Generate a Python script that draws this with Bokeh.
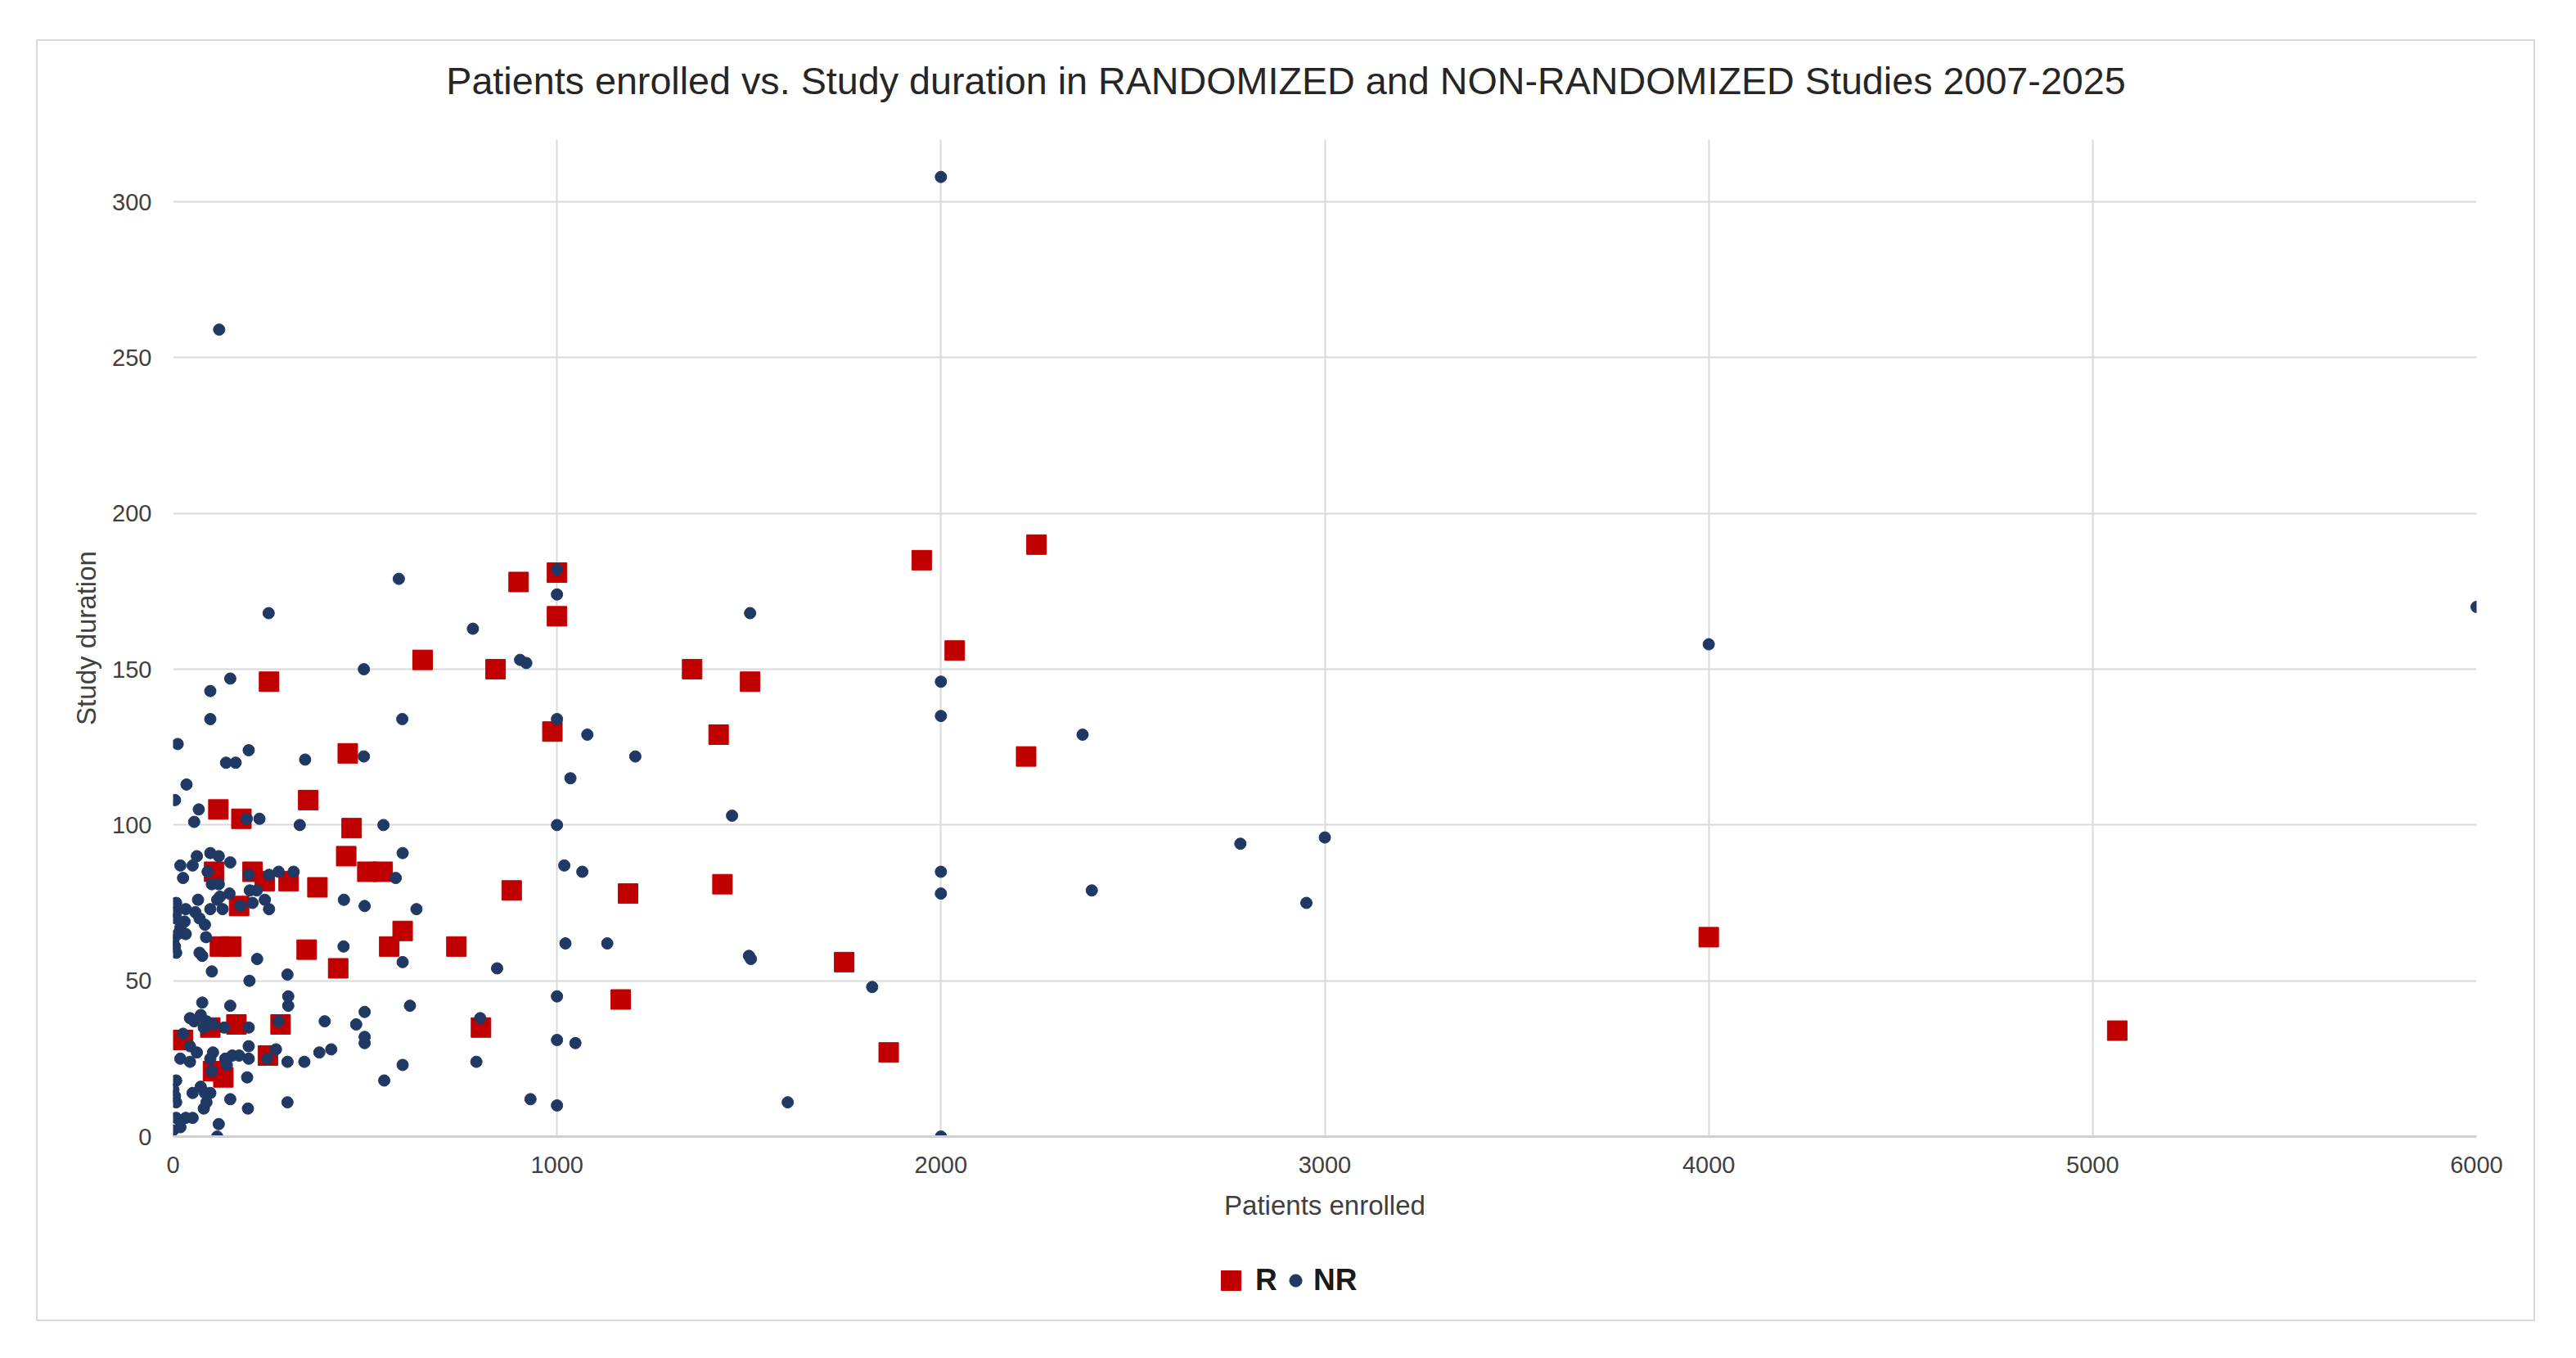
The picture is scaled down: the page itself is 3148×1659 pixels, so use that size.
from bokeh.plotting import figure
from bokeh.layouts import column
from bokeh.models import Legend, LegendItem, FixedTicker, Range1d, Label
from bokeh.embed import file_html
from bokeh.resources import INLINE

TITLE = "Patients enrolled vs. Study duration in RANDOMIZED and NON-RANDOMIZED Studies 2007-2025"
X_LABEL = "Patients enrolled"
Y_LABEL = "Study duration"
X_TICKS = [0, 1000, 2000, 3000, 4000, 5000, 6000]
Y_TICKS = [0, 50, 100, 150, 200, 250, 300]

# Randomized studies (R)
R_x = [250, 650, 840, 900, 1000, 1000, 988, 1352, 1421, 1503, 1950, 2249, 2036, 2222,
       455, 118, 178, 352, 465, 451, 506, 546, 107, 207, 239, 301, 376, 882, 1185, 1431,
       172, 122, 151, 348, 563, 598, 738, 430, 1748, 4000, 1166, 802, 26, 97, 165, 280,
       247, 104, 131, 1864, 5064]
R_y = [146, 153, 150, 178, 181, 167, 130, 150, 129, 146, 185, 190, 156, 122,
       123, 105, 102, 108, 99, 90, 85, 85, 85, 85, 82, 82, 80, 79, 78, 81,
       74, 61, 61, 60, 61, 66, 61, 54, 56, 64, 44, 35, 31, 35, 36, 36,
       26, 21, 19, 27, 34]

# Non-randomized studies (NR)
NR_x = [588, 249, 781, 497, 149, 97, 97, 597, 12, 197, 138, 163, 344, 497, 35, 5, 67, 55,
        192, 225, 330, 548,
        1000, 1000, 904, 920, 1000, 1079, 1204, 1035, 1456, 1000, 1019, 1066, 1022, 1131,
        844, 1000, 800, 1000, 1048, 931, 1000, 790,
        1503, 2000, 2000, 2369, 2000, 2000, 2393, 1500, 1505, 1821, 1601, 2000,
        2780, 3000, 2952, 4000, 6000, 2000, 120,
        598, 580, 445, 499, 634, 444, 598, 617, 395, 499, 477, 499, 499, 381, 412, 598, 550,
        97, 62, 119, 149, 19, 51, 26, 90, 197, 250, 275, 314, 101, 119, 147, 122, 200, 218,
        175, 207, 239, 250, 97, 129, 115,
        8, 8, 33, 65, 58, 8, 30, 69, 83, 19, 33, 12, 86, 1, 0, 5, 8, 69, 76,
        219, 101, 298, 199,
        76, 149, 300, 300, 275, 44, 72, 55, 87, 104, 80, 26, 133, 197,
        44, 62, 19, 44, 104, 97, 136, 154, 172, 197, 197, 140, 101, 268, 246, 298, 342,
        193, 8, 1, 5, 8, 51, 72, 83, 97, 80, 87, 149, 195, 298, 8, 33, 51, 0, 19, 119, 115]
NR_y = [179, 168, 163, 150, 147, 143, 134, 134, 126, 124, 120, 120, 121, 122, 113, 108, 105, 101,
        102, 102, 100, 100,
        182, 174, 153, 152, 134, 129, 122, 115, 103, 100, 87, 85, 62, 62,
        54, 45, 38, 31, 30, 12, 10, 24,
        168, 146, 135, 129, 85, 78, 79, 58, 57, 48, 11, 0,
        94, 96, 75, 158, 170, 308, 259,
        91, 83, 76, 74, 73, 61, 56, 42, 37, 40, 36, 32, 30, 27, 28, 23, 18,
        91, 90, 90, 88, 87, 87, 83, 85, 84, 84, 85, 85, 81, 81, 78, 77, 79, 79,
        74, 75, 76, 73, 73, 73, 76,
        75, 72, 73, 76, 72, 70, 69, 70, 68, 67, 65, 65, 64, 63, 62, 61, 59, 59, 58,
        57, 53, 52, 50,
        43, 42, 45, 42, 37, 38, 39, 37, 37, 36, 35, 33, 35, 35,
        29, 27, 25, 24, 27, 25, 25, 26, 26, 29, 25, 23, 21, 28, 25, 24, 24,
        19, 18, 15, 13, 11, 14, 16, 14, 14, 9, 11, 12, 9, 11, 6, 6, 6, 2, 3, 4, 0]

FONT = "Liberation Sans"
R_COLOR = "#C00000"
NR_COLOR = "#1F3864"
W = 3050


def strip_fig(h):
    # helper strip (title / legend); its frame is aligned with the main frame by the column
    f = figure(width=W, height=h, x_range=Range1d(-2, -1), y_range=Range1d(-2, -1),
               x_axis_type=None, y_axis_type=None, title=None, min_border=0,
               output_backend="svg", toolbar_location=None)
    f.outline_line_color = None
    f.background_fill_color = "white"
    f.border_fill_color = "white"
    return f


# ---- title strip ----
title_fig = strip_fig(120)
title_fig.add_layout(Label(x=1360, y=72, x_units="screen", y_units="screen", text=TITLE,
                           text_align="center", text_baseline="middle", text_font=FONT,
                           text_font_size="46.7px", text_color="#262626"))

# ---- main chart ----
p = figure(width=W, height=1340,
           x_range=Range1d(0, 6000), y_range=Range1d(0, 320),
           output_backend="svg", toolbar_location=None, title=None,
           min_border_left=165, min_border_right=70,
           min_border_top=0, min_border_bottom=122)
p.outline_line_color = None
p.background_fill_color = "white"
p.border_fill_color = "white"

for ax, lab in ((p.xaxis, X_LABEL), (p.yaxis, Y_LABEL)):
    ax.axis_label = lab
    ax.axis_label_text_font = FONT
    ax.axis_label_text_font_size = "33px"
    ax.axis_label_text_font_style = "normal"
    ax.axis_label_text_color = "#404040"
    ax.major_label_text_font = FONT
    ax.major_label_text_font_size = "29px"
    ax.major_label_text_color = "#404040"
    ax.major_tick_line_color = None
    ax.minor_tick_line_color = None

p.xaxis.ticker = FixedTicker(ticks=X_TICKS)
p.yaxis.ticker = FixedTicker(ticks=Y_TICKS)
p.xaxis.axis_line_color = "#D0D0D0"
p.xaxis.axis_line_width = 3
p.yaxis.axis_line_color = None
p.xaxis.major_label_standoff = 18
p.xaxis.axis_label_standoff = 18
p.yaxis.major_label_standoff = 20
p.yaxis.axis_label_standoff = 10

p.xgrid.grid_line_color = "#D9D9D9"
p.xgrid.grid_line_width = 2
p.ygrid.grid_line_color = "#D9D9D9"
p.ygrid.grid_line_width = 2

p.scatter(R_x, R_y, marker="square", size=24, fill_color=R_COLOR, line_color=R_COLOR)
p.scatter(NR_x, NR_y, marker="circle", size=14, fill_color=NR_COLOR, line_color=NR_COLOR)

# ---- legend strip (same series; its ranges keep the marks out of view, only the legend shows) ----
leg_fig = strip_fig(102)
lr_R = leg_fig.scatter(R_x, R_y, marker="square", size=24, fill_color=R_COLOR, line_color=R_COLOR)
lr_NR = leg_fig.scatter(NR_x, NR_y, marker="circle", size=14, fill_color=NR_COLOR, line_color=NR_COLOR)
common = dict(padding=0, margin=0, border_line_color=None, background_fill_alpha=0,
              label_text_font=FONT, label_text_font_size="37px",
              label_text_font_style="bold", label_text_color="#1A1A1A", spacing=0)
leg_fig.add_layout(Legend(items=[LegendItem(label="R", renderers=[lr_R])], location=(1263, 18),
                          glyph_width=60, glyph_height=60, label_standoff=-9, **common))
leg_fig.add_layout(Legend(items=[LegendItem(label="NR", renderers=[lr_NR])], location=(1353, 27),
                          glyph_width=38, glyph_height=38, label_standoff=3, **common))

layout = column(title_fig, p, leg_fig, spacing=0, margin=(48, 0, 0, 44),
                styles={"border": "2px solid #D9D9D9"})

open("out.html", "w").write(file_html(layout, INLINE))
